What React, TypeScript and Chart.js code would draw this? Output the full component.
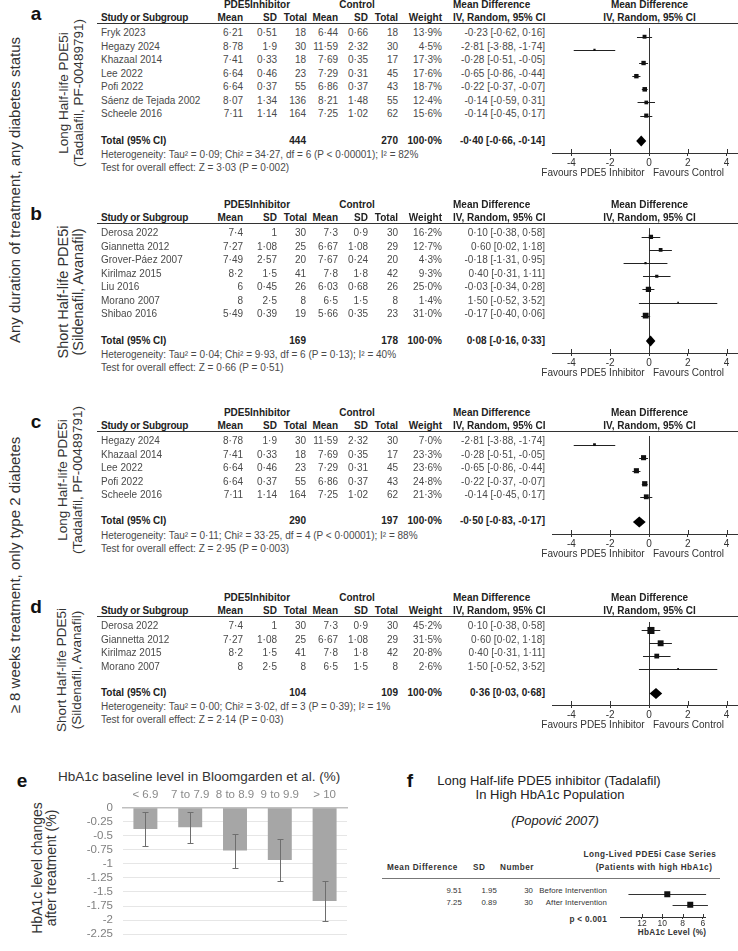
import React, { useEffect, useRef } from 'react';
import { Chart, registerables } from 'chart.js';
Chart.register(...registerables);

const FONT = '"Liberation Sans", Arial, Helvetica, sans-serif';
const ROWC = '#4a4a4a';
const HEADC = '#222';

// ---------- Panel a ----------
const aStudies = ['Fryk 2023', 'Hegazy 2024', 'Khazaal 2014', 'Lee 2022', 'Pofi 2022', 'Sáenz de Tejada 2002', 'Scheele 2016'];
const aMeanT = [6.21, 8.78, 7.41, 6.64, 6.64, 8.07, 7.11];
const aSdT = [0.51, 1.9, 0.33, 0.46, 0.37, 1.34, 1.14];
const aNT = [18, 30, 18, 23, 55, 136, 164];
const aMeanC = [6.44, 11.59, 7.69, 7.29, 6.86, 8.21, 7.25];
const aSdC = [0.66, 2.32, 0.35, 0.31, 0.37, 1.48, 1.02];
const aNC = [18, 30, 17, 45, 43, 55, 62];
const aWeight = [13.9, 4.5, 17.3, 17.6, 18.7, 12.4, 15.6];
const aMD = [-0.23, -2.81, -0.28, -0.65, -0.22, -0.14, -0.14];
const aLo = [-0.62, -3.88, -0.51, -0.86, -0.37, -0.59, -0.45];
const aHi = [0.16, -1.74, -0.05, -0.44, -0.07, 0.31, 0.17];
const aTotN = [444, 270];
const aTotCI = [-0.40, -0.66, -0.14];
const aStats = ['Heterogeneity: Tau² = 0·09; Chi² = 34·27, df = 6 (P < 0·00001); I² = 82%', 'Test for overall effect: Z = 3·03 (P = 0·002)'];

// ---------- Panel b ----------
const bStudies = ['Derosa 2022', 'Giannetta 2012', 'Grover-Páez 2007', 'Kirilmaz 2015', 'Liu 2016', 'Morano 2007', 'Shibao 2016'];
const bMeanT = [7.4, 7.27, 7.49, 8.2, 6, 8, 5.49];
const bSdT = [1, 1.08, 2.57, 1.5, 0.45, 2.5, 0.39];
const bNT = [30, 25, 20, 41, 26, 8, 19];
const bMeanC = [7.3, 6.67, 7.67, 7.8, 6.03, 6.5, 5.66];
const bSdC = [0.9, 1.08, 0.24, 1.8, 0.68, 1.5, 0.35];
const bNC = [30, 29, 20, 42, 26, 8, 23];
const bWeight = [16.2, 12.7, 4.3, 9.3, 25.0, 1.4, 31.0];
const bMD = [0.10, 0.60, -0.18, 0.40, -0.03, 1.50, -0.17];
const bLo = [-0.38, 0.02, -1.31, -0.31, -0.34, -0.52, -0.40];
const bHi = [0.58, 1.18, 0.95, 1.11, 0.28, 3.52, 0.06];
const bTotN = [169, 178];
const bTotCI = [0.08, -0.16, 0.33];
const bStats = ['Heterogeneity: Tau² = 0·04; Chi² = 9·93, df = 6 (P = 0·13); I² = 40%', 'Test for overall effect: Z = 0·66 (P = 0·51)'];

// ---------- Panel c ----------
const cStudies = ['Hegazy 2024', 'Khazaal 2014', 'Lee 2022', 'Pofi 2022', 'Scheele 2016'];
const cMeanT = [8.78, 7.41, 6.64, 6.64, 7.11];
const cSdT = [1.9, 0.33, 0.46, 0.37, 1.14];
const cNT = [30, 18, 23, 55, 164];
const cMeanC = [11.59, 7.69, 7.29, 6.86, 7.25];
const cSdC = [2.32, 0.35, 0.31, 0.37, 1.02];
const cNC = [30, 17, 45, 43, 62];
const cWeight = [7.0, 23.3, 23.6, 24.8, 21.3];
const cMD = [-2.81, -0.28, -0.65, -0.22, -0.14];
const cLo = [-3.88, -0.51, -0.86, -0.37, -0.45];
const cHi = [-1.74, -0.05, -0.44, -0.07, 0.17];
const cTotN = [290, 197];
const cTotCI = [-0.50, -0.83, -0.17];
const cStats = ['Heterogeneity: Tau² = 0·11; Chi² = 33·25, df = 4 (P < 0·00001); I² = 88%', 'Test for overall effect: Z = 2·95 (P = 0·003)'];

// ---------- Panel d ----------
const dStudies = ['Derosa 2022', 'Giannetta 2012', 'Kirilmaz 2015', 'Morano 2007'];
const dMeanT = [7.4, 7.27, 8.2, 8];
const dSdT = [1, 1.08, 1.5, 2.5];
const dNT = [30, 25, 41, 8];
const dMeanC = [7.3, 6.67, 7.8, 6.5];
const dSdC = [0.9, 1.08, 1.8, 1.5];
const dNC = [30, 29, 42, 8];
const dWeight = [45.2, 31.5, 20.8, 2.6];
const dMD = [0.10, 0.60, 0.40, 1.50];
const dLo = [-0.38, 0.02, -0.31, -0.52];
const dHi = [0.58, 1.18, 1.11, 3.52];
const dTotN = [104, 109];
const dTotCI = [0.36, 0.03, 0.68];
const dStats = ['Heterogeneity: Tau² = 0·00; Chi² = 3·02, df = 3 (P = 0·39); I² = 1%', 'Test for overall effect: Z = 2·14 (P = 0·03)'];

const forestTicks = [-4, -2, 0, 2, 4];

// ---------- Panel e ----------
const eCats = ['< 6.9', '7 to 7.9', '8 to 8.9', '9 to 9.9', '> 10'];
const eMeans = [-0.38, -0.35, -0.76, -0.93, -1.66];
const eLo = [-0.69, -0.62, -1.07, -1.31, -2.02];
const eHi = [-0.07, -0.08, -0.46, -0.56, -1.31];

// ---------- Panel f ----------
const fLabels = ['Before Intervention', 'After Intervention'];
const fMean = [9.51, 7.25];
const fSD = [1.95, 0.89];
const fN = [30, 30];
const fLo = [5.69, 5.51];
const fHi = [13.33, 8.99];
const fTicks = [12, 10, 8, 6];

const dot = (v: number) => String(v).replace('.', '·');
const f2 = (v: number) => v.toFixed(2).replace('.', '·');
const ci = (m: number, l: number, h: number) => `${f2(m)} [${f2(l)}, ${f2(h)}]`;

type TxtProps = { x: number; y: number; a?: 'l' | 'r' | 'c'; b?: boolean; s?: number; c?: string; i?: boolean; ls?: number; children: React.ReactNode };
function Txt({ x, y, a = 'l', b = false, s = 10, c = '#333', i = false, ls = 0, children }: TxtProps) {
  const lh = s + 2;
  const tx = a === 'l' ? '0' : a === 'r' ? '-100%' : '-50%';
  return (
    <div style={{ position: 'absolute', left: x, top: y - lh / 2, lineHeight: lh + 'px', fontSize: s, fontWeight: b ? 'bold' : 'normal', fontStyle: i ? 'italic' : 'normal', color: c, whiteSpace: 'nowrap', transform: `translateX(${tx})`, letterSpacing: ls }}>
      {children}
    </div>
  );
}

function VTxt({ x, y, s, c, lh, lines }: { x: number; y: number; s: number; c: string; lh: number; lines: string[] }) {
  return (
    <div style={{ position: 'absolute', left: x, top: y, transform: 'translate(-50%,-50%) rotate(-90deg)', fontSize: s, lineHeight: lh + 'px', color: c, whiteSpace: 'nowrap', textAlign: 'center' }}>
      {lines.map((l) => <div key={l}>{l}</div>)}
    </div>
  );
}

const STEP = 13.57;

function ForestChart(props: { top: number; axisY: number; n: number; md: number[]; lo: number[]; hi: number[]; weight: number[]; tot: number[] }) {
  const ref = useRef<HTMLCanvasElement>(null);
  const { top, axisY, n, md, lo, hi, weight, tot } = props;
  const h = Math.round(axisY - top) + 20;
  useEffect(() => {
    const ymin = (19 - 28) / STEP;
    const ymax = ymin + (h - 20) / STEP;
    const plugin = {
      id: 'forest',
      beforeDatasetsDraw(chart: any) {
        const { ctx, chartArea, scales } = chart;
        const x = scales.x, y = scales.y;
        ctx.save();
        ctx.lineWidth = 1;
        ctx.strokeStyle = '#333';
        const x0 = Math.round(x.getPixelForValue(0)) + 0.5;
        ctx.beginPath(); ctx.moveTo(x0, chartArea.top); ctx.lineTo(x0, chartArea.bottom); ctx.stroke();
        forestTicks.forEach((v) => {
          const xx = Math.round(x.getPixelForValue(v)) + 0.5;
          ctx.beginPath(); ctx.moveTo(xx, chartArea.bottom - 4); ctx.lineTo(xx, chartArea.bottom); ctx.stroke();
        });
        ctx.strokeStyle = '#222';
        lo.forEach((l, i) => {
          const yy = Math.round(y.getPixelForValue(i)) + 0.5;
          ctx.beginPath(); ctx.moveTo(x.getPixelForValue(l), yy); ctx.lineTo(x.getPixelForValue(hi[i]), yy); ctx.stroke();
        });
        const ty = y.getPixelForValue(n + 0.93);
        ctx.fillStyle = '#000';
        ctx.beginPath();
        ctx.moveTo(x.getPixelForValue(tot[1]), ty);
        ctx.lineTo(x.getPixelForValue(tot[0]), ty - 5.5);
        ctx.lineTo(x.getPixelForValue(tot[2]), ty);
        ctx.lineTo(x.getPixelForValue(tot[0]), ty + 5.5);
        ctx.closePath(); ctx.fill();
        ctx.restore();
      },
    };
    const chart = new Chart(ref.current as HTMLCanvasElement, {
      type: 'scatter',
      data: {
        datasets: [{
          data: md.map((v, i) => ({ x: v, y: i })),
          pointStyle: 'rect',
          pointRadius: weight.map((w) => Math.max(1.6, 1.05 * Math.sqrt(w)) / Math.SQRT2),
          backgroundColor: '#111',
          borderColor: '#111',
          borderWidth: 0,
        }],
      },
      options: {
        animation: false, responsive: false, maintainAspectRatio: false, events: [],
        layout: { padding: { left: 10, right: 10, top: 0, bottom: 0 } },
        plugins: { legend: { display: false }, tooltip: { enabled: false } },
        scales: {
          x: {
            type: 'linear', min: -5, max: 5,
            afterBuildTicks: (s: any) => { s.ticks = forestTicks.map((v) => ({ value: v })); },
            afterFit: (s: any) => { s.height = 20; },
            border: { display: true, color: '#333', width: 1 },
            grid: { display: true, drawOnChartArea: false, drawTicks: true, tickLength: 3, color: '#333' },
            ticks: { padding: 1, color: '#333', font: { family: FONT, size: 10 }, maxRotation: 0, autoSkip: false, callback: (v: any) => String(v) },
          },
          y: { type: 'linear', display: false, reverse: true, min: ymin, max: ymax },
        },
      } as any,
      plugins: [plugin],
    });
    return () => chart.destroy();
  }, []);
  return <canvas ref={ref} width={214} height={h} style={{ position: 'absolute', left: 542, top, width: 214, height: h }} />;
}

type FP = {
  H: number; letter: string; label: string[]; labelX: number; labelY: number; labelS: number; labelLh: number;
  studies: string[]; meanT: number[]; sdT: number[]; nT: number[];
  meanC: number[]; sdC: number[]; nC: number[]; weight: number[]; md: number[]; lo: number[]; hi: number[];
  totN: number[]; totCI: number[]; stats: string[];
};

function ForestPanel(p: FP) {
  const n = p.studies.length;
  const H = p.H;
  const rowY = (i: number) => H + 28 + i * STEP;
  const totalY = H + 28 + (n + 1) * STEP - 1;
  const axisY = totalY + 12.5;
  const testY = totalY + 27.5;
  return (
    <>
      <Txt x={36} y={H + 8} a="c" b s={19} c="#111">{p.letter}</Txt>
      <VTxt x={p.labelX} y={p.labelY} s={p.labelS} lh={p.labelLh} c="#333" lines={p.label} />
      <Txt x={257} y={H} a="c" b c={HEADC}>PDE5Inhibitor</Txt>
      <Txt x={357} y={H} a="c" b c={HEADC}>Control</Txt>
      <Txt x={453} y={H} b c={HEADC}>Mean Difference</Txt>
      <Txt x={649.5} y={H} a="c" b c={HEADC}>Mean Difference</Txt>
      <Txt x={101} y={H + 13} b c={HEADC} ls={-0.2}>Study or Subgroup</Txt>
      <Txt x={243} y={H + 13} a="r" b c={HEADC}>Mean</Txt>
      <Txt x={277} y={H + 13} a="r" b c={HEADC}>SD</Txt>
      <Txt x={307} y={H + 13} a="r" b c={HEADC}>Total</Txt>
      <Txt x={338} y={H + 13} a="r" b c={HEADC}>Mean</Txt>
      <Txt x={368} y={H + 13} a="r" b c={HEADC}>SD</Txt>
      <Txt x={398} y={H + 13} a="r" b c={HEADC}>Total</Txt>
      <Txt x={442} y={H + 13} a="r" b c={HEADC}>Weight</Txt>
      <Txt x={453} y={H + 13} b c={HEADC}>IV, Random, 95% CI</Txt>
      <Txt x={649.5} y={H + 13} a="c" b c={HEADC}>IV, Random, 95% CI</Txt>
      <div style={{ position: 'absolute', left: 97, top: H + 18, width: 641, height: 1, background: '#333' }} />
      {p.studies.map((s, i) => {
        const y = rowY(i);
        return (
          <React.Fragment key={s}>
            <Txt x={101} y={y} c={ROWC}>{s}</Txt>
            <Txt x={243} y={y} a="r" c={ROWC}>{dot(p.meanT[i])}</Txt>
            <Txt x={277} y={y} a="r" c={ROWC}>{dot(p.sdT[i])}</Txt>
            <Txt x={306} y={y} a="r" c={ROWC}>{p.nT[i]}</Txt>
            <Txt x={338} y={y} a="r" c={ROWC}>{dot(p.meanC[i])}</Txt>
            <Txt x={368} y={y} a="r" c={ROWC}>{dot(p.sdC[i])}</Txt>
            <Txt x={398} y={y} a="r" c={ROWC}>{p.nC[i]}</Txt>
            <Txt x={442} y={y} a="r" c={ROWC}>{p.weight[i].toFixed(1).replace('.', '·') + '%'}</Txt>
            <Txt x={545} y={y} a="r" c={ROWC}>{ci(p.md[i], p.lo[i], p.hi[i])}</Txt>
          </React.Fragment>
        );
      })}
      <Txt x={101} y={totalY} b c={HEADC}>Total (95% CI)</Txt>
      <Txt x={306} y={totalY} a="r" b c={HEADC}>{p.totN[0]}</Txt>
      <Txt x={398} y={totalY} a="r" b c={HEADC}>{p.totN[1]}</Txt>
      <Txt x={442} y={totalY} a="r" b c={HEADC}>100·0%</Txt>
      <Txt x={545} y={totalY} a="r" b c={HEADC}>{ci(p.totCI[0], p.totCI[1], p.totCI[2])}</Txt>
      <Txt x={101} y={totalY + 14.5} c={ROWC}>{p.stats[0]}</Txt>
      <Txt x={101} y={testY} c={ROWC}>{p.stats[1]}</Txt>
      <ForestChart top={H + 19} axisY={axisY} n={n} md={p.md} lo={p.lo} hi={p.hi} weight={p.weight} tot={p.totCI} />
      <Txt x={593} y={axisY + 20} a="c" c="#333">Favours PDE5 Inhibitor</Txt>
      <Txt x={688.5} y={axisY + 20} a="c" c="#333">Favours Control</Txt>
    </>
  );
}

function BarChartE() {
  const ref = useRef<HTMLCanvasElement>(null);
  useEffect(() => {
    const errPlugin = {
      id: 'errE',
      afterDatasetsDraw(chart: any) {
        const { ctx, scales } = chart;
        const y = scales.y;
        const meta = chart.getDatasetMeta(0);
        ctx.save();
        ctx.strokeStyle = '#6e6e6e';
        ctx.lineWidth = 1;
        meta.data.forEach((el: any, i: number) => {
          const x = Math.round(el.x) + 0.5;
          const y1 = Math.round(y.getPixelForValue(eHi[i])) + 0.5;
          const y2 = Math.round(y.getPixelForValue(eLo[i])) + 0.5;
          ctx.beginPath();
          ctx.moveTo(x, y1); ctx.lineTo(x, y2);
          ctx.moveTo(x - 3, y1); ctx.lineTo(x + 3, y1);
          ctx.moveTo(x - 3, y2); ctx.lineTo(x + 3, y2);
          ctx.stroke();
        });
        ctx.restore();
      },
    };
    const chart = new Chart(ref.current as HTMLCanvasElement, {
      type: 'bar',
      data: { labels: eCats, datasets: [{ data: eMeans, backgroundColor: '#a6a6a6', categoryPercentage: 1, barPercentage: 0.535 }] },
      options: {
        animation: false, responsive: false, maintainAspectRatio: false, events: [],
        layout: { padding: { left: 0, right: 13, top: 0, bottom: 6.7 } },
        plugins: { legend: { display: false }, tooltip: { enabled: false } },
        scales: {
          x: {
            position: 'top',
            afterFit: (s: any) => { s.height = 27.7; },
            grid: { display: false, drawTicks: false },
            border: { display: true, color: '#bfbfbf', width: 1.5 },
            ticks: { padding: 6, color: '#8a8a8a', font: { family: FONT, size: 11.5 }, maxRotation: 0, autoSkip: false },
          },
          y: {
            min: -2.25, max: 0,
            afterFit: (s: any) => { s.width = 123; },
            border: { display: false },
            grid: { color: (c: any) => (c.tick && c.tick.value === 0 ? 'rgba(0,0,0,0)' : '#e6e6e6'), drawTicks: false },
            ticks: { stepSize: 0.25, autoSkip: false, padding: 10, color: '#808080', font: { family: FONT, size: 11.5 }, callback: (v: any) => String(Math.round(Number(v) * 100) / 100) },
          },
        },
      } as any,
      plugins: [errPlugin],
    });
    return () => chart.destroy();
  }, []);
  return <canvas ref={ref} width={360} height={171} style={{ position: 'absolute', left: 0, top: 780, width: 360, height: 171 }} />;
}

function CaseChartF() {
  const ref = useRef<HTMLCanvasElement>(null);
  useEffect(() => {
    const plugin = {
      id: 'caseF',
      beforeDatasetsDraw(chart: any) {
        const { ctx, chartArea, scales } = chart;
        const x = scales.x, y = scales.y;
        ctx.save();
        ctx.strokeStyle = '#333';
        ctx.lineWidth = 1;
        fTicks.forEach((v) => {
          const xx = Math.round(x.getPixelForValue(v)) + 0.5;
          ctx.beginPath(); ctx.moveTo(xx, chartArea.bottom - 3); ctx.lineTo(xx, chartArea.bottom); ctx.stroke();
        });
        fLo.forEach((l, i) => {
          const yy = Math.round(y.getPixelForValue(i)) + 0.5;
          ctx.beginPath(); ctx.moveTo(x.getPixelForValue(l), yy); ctx.lineTo(x.getPixelForValue(fHi[i]), yy); ctx.stroke();
        });
        ctx.restore();
      },
    };
    const chart = new Chart(ref.current as HTMLCanvasElement, {
      type: 'scatter',
      data: { datasets: [{ data: fMean.map((v, i) => ({ x: v, y: i })), pointStyle: 'rect', pointRadius: 6 / Math.SQRT2, backgroundColor: '#111', borderColor: '#111', borderWidth: 0 }] },
      options: {
        animation: false, responsive: false, maintainAspectRatio: false, events: [],
        layout: { padding: { left: 10, right: 10, top: 0, bottom: 0 } },
        plugins: { legend: { display: false }, tooltip: { enabled: false } },
        scales: {
          x: {
            type: 'linear', min: 5.8, max: 14.16, reverse: true,
            afterBuildTicks: (s: any) => { s.ticks = fTicks.map((v) => ({ value: v })); },
            afterFit: (s: any) => { s.height = 14; },
            border: { display: true, color: '#333', width: 1 },
            grid: { display: true, drawOnChartArea: false, drawTicks: true, tickLength: 2, color: '#333' },
            ticks: { padding: 0, color: '#333', font: { family: FONT, size: 8.5 }, maxRotation: 0, autoSkip: false, callback: (v: any) => String(v) },
          },
          y: { type: 'linear', display: false, reverse: true, min: -0.75, max: 2.167 },
        },
      } as any,
      plugins: [plugin],
    });
    return () => chart.destroy();
  }, []);
  return <canvas ref={ref} width={105} height={49} style={{ position: 'absolute', left: 610, top: 882, width: 105, height: 49 }} />;
}

export default function App() {
  return (
    <div style={{ position: 'absolute', left: 0, top: 0, width: 738, height: 951, overflow: 'hidden', background: '#fff', fontFamily: FONT }}>
      <VTxt x={15} y={190} s={15} c="#333" lh={16} lines={['Any duration of treatment, any diabetes status']} />
      <VTxt x={15} y={575} s={15} c="#333" lh={16} lines={['≥ 8 weeks treatment, only type 2 diabetes']} />
      <ForestPanel H={5} letter="a" label={['Long Half-life PDE5i', '(Tadalafil, PF-00489791)']} labelX={71} labelY={93} labelS={13.5} labelLh={15}
        studies={aStudies} meanT={aMeanT} sdT={aSdT} nT={aNT} meanC={aMeanC} sdC={aSdC} nC={aNC} weight={aWeight} md={aMD} lo={aLo} hi={aHi} totN={aTotN} totCI={aTotCI} stats={aStats} />
      <ForestPanel H={205} letter="b" label={['Short Half-life PDE5i', '(Sildenafil, Avanafil)']} labelX={71} labelY={292} labelS={14.5} labelLh={15}
        studies={bStudies} meanT={bMeanT} sdT={bSdT} nT={bNT} meanC={bMeanC} sdC={bSdC} nC={bNC} weight={bWeight} md={bMD} lo={bLo} hi={bHi} totN={bTotN} totCI={bTotCI} stats={bStats} />
      <ForestPanel H={413} letter="c" label={['Long Half-life PDE5i', '(Tadalafil, PF-00489791)']} labelX={70} labelY={480} labelS={13.5} labelLh={15}
        studies={cStudies} meanT={cMeanT} sdT={cSdT} nT={cNT} meanC={cMeanC} sdC={cSdC} nC={cNC} weight={cWeight} md={cMD} lo={cLo} hi={cHi} totN={cTotN} totCI={cTotCI} stats={cStats} />
      <ForestPanel H={598} letter="d" label={['Short Half-life PDE5i', '(Sildenafil, Avanafil)']} labelX={69} labelY={670} labelS={13.5} labelLh={15}
        studies={dStudies} meanT={dMeanT} sdT={dSdT} nT={dNT} meanC={dMeanC} sdC={dSdC} nC={dNC} weight={dWeight} md={dMD} lo={dLo} hi={dHi} totN={dTotN} totCI={dTotCI} stats={dStats} />

      <Txt x={22} y={780} a="c" b s={19} c="#111">e</Txt>
      <Txt x={58} y={777} s={13.5} c="#333">HbA1c baseline level in Bloomgarden et al. (%)</Txt>
      <VTxt x={44} y={868} s={14} c="#333" lh={14} lines={['HbA1c level changes', 'after treatment (%)']} />
      <BarChartE />

      <Txt x={410} y={780} a="c" b s={19} c="#111">f</Txt>
      <Txt x={549} y={780} a="c" s={13} c="#222">Long Half-life PDE5 inhibitor (Tadalafil)</Txt>
      <Txt x={550} y={794} a="c" s={13} c="#222">In High HbA1c Population</Txt>
      <Txt x={555} y={820} a="c" s={13} i c="#222">(Popović 2007)</Txt>
      <Txt x={387} y={868} b s={8.2} ls={0.5} c="#333">Mean Difference</Txt>
      <Txt x={473} y={868} b s={8.2} ls={0.5} c="#333">SD</Txt>
      <Txt x={500} y={868} b s={8.2} ls={0.5} c="#333">Number</Txt>
      <Txt x={650} y={855} a="c" b s={8.2} ls={0.5} c="#333">Long-Lived PDE5i Case Series</Txt>
      <Txt x={654} y={868} a="c" b s={8.2} ls={0.5} c="#333">(Patients with high HbA1c)</Txt>
      <div style={{ position: 'absolute', left: 382, top: 878, width: 338, height: 1, background: '#777' }} />
      {fLabels.map((l, i) => (
        <React.Fragment key={l}>
          <Txt x={462} y={891 + i * 12} a="r" s={7.8} ls={0.1} c="#333">{fMean[i].toFixed(2)}</Txt>
          <Txt x={497} y={891 + i * 12} a="r" s={7.8} ls={0.1} c="#333">{fSD[i].toFixed(2)}</Txt>
          <Txt x={533} y={891 + i * 12} a="r" s={7.8} ls={0.1} c="#333">{fN[i]}</Txt>
          <Txt x={607} y={891 + i * 12} a="r" s={7.8} ls={0.1} c="#333">{l}</Txt>
        </React.Fragment>
      ))}
      <Txt x={607} y={920} a="r" b s={8.2} ls={0.3} c="#333">p &lt; 0.001</Txt>
      <Txt x={672} y={933} a="c" b s={8.2} ls={0.3} c="#333">HbA1c Level (%)</Txt>
      <CaseChartF />
    </div>
  );
}
